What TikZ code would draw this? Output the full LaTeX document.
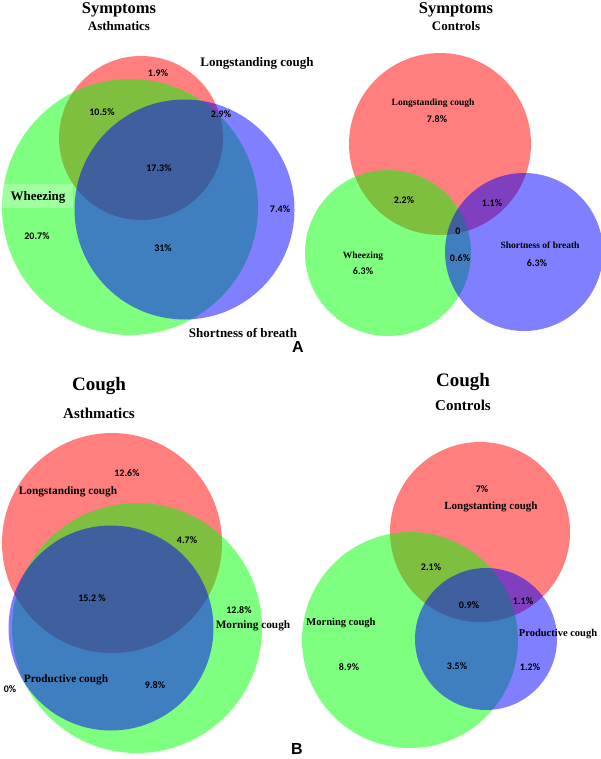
\documentclass[tikz,border=0pt]{standalone}
\usepackage{fontspec}
\setmainfont{Liberation Serif}
\newfontfamily\pctfont{Carlito}
\newfontfamily\panelfont{Liberation Sans}
\begin{document}
\begin{tikzpicture}[x=1pt,y=-1pt,
  venn/.style={circle,inner sep=0pt,draw=none,fill opacity=0.5,minimum size=#1},
  vr/.style={venn=#1,fill={rgb,255:red,255;green,0;blue,0}},
  vg/.style={venn=#1,fill={rgb,255:red,0;green,255;blue,0}},
  vb/.style={venn=#1,fill={rgb,255:red,0;green,0;blue,255}},
  fs/.style={font=\bfseries\fontsize{#1}{#1}\selectfont},
  ttl/.style={inner sep=0pt,fs=#1},
  lbl/.style={inner sep=0pt,fs=#1},
  pct/.style={inner sep=0pt,font=\pctfont\bfseries\fontsize{10}{10}\selectfont},
  panel/.style={inner sep=0pt,font=\panelfont\bfseries\fontsize{16}{16}\selectfont}]
\useasboundingbox (0,0) rectangle (600,759);
\fill[white] (0,0) rectangle (600,759);

% ---------- Panel A, asthmatics ----------
\node[vr=164pt] (aaR) at (141,138) {};
\node[vg=256pt] (aaG) at (130,207) {};
\node[vb=220pt] (aaB) at (184.5,209.5) {};
\fill[white,fill opacity=0.25] (2,184) rectangle (73,208);

\node[ttl=16.5] (aaT) at (119,10) {Symptoms};
\node[ttl=13] (aaS) at (119,26) {Asthmatics};
\node[lbl=13] (aaLR) at (257,63) {Longstanding cough};
\node[lbl=13] (aaLG) at (38,197) {Wheezing};
\node[lbl=13] (aaLB) at (243,333) {Shortness of breath};
\node[pct] (aa1) at (158,73) {1.9\%};
\node[pct] (aa2) at (102,112) {10.5\%};
\node[pct] (aa3) at (221,114) {2.9\%};
\node[pct] (aa4) at (159,168) {17.3\%};
\node[pct] (aa5) at (37,236) {20.7\%};
\node[pct] (aa6) at (163,248) {31\%};
\node[pct] (aa7) at (280,209) {7.4\%};
\node[panel] (pA) at (298,347) {A};

% ---------- Panel A, controls ----------
\node[vr=182pt] (acR) at (440,144) {};
\node[vg=166pt] (acG) at (388,253) {};
\node[vb=158pt] (acB) at (524,252) {};

\node[ttl=16.5] (acT) at (456,10) {Symptoms};
\node[ttl=13] (acS) at (456,26) {Controls};
\node[lbl=9.5] (acLR) at (433,103) {Longstanding cough};
\node[pct] (ac1) at (437,119) {7.8\%};
\node[pct] (ac2) at (404,200) {2.2\%};
\node[pct] (ac3) at (492,203) {1.1\%};
\node[pct] (ac4) at (458,231) {0};
\node[pct] (ac5) at (460,258) {0.6\%};
\node[lbl=9.5] (acLG) at (363,256) {Wheezing};
\node[pct] (ac6) at (363,271) {6.3\%};
\node[lbl=9.5] (acLB) at (540,245) {Shortness of breath};
\node[pct] (ac7) at (537,263) {6.3\%};

% ---------- Panel B, asthmatics ----------
\node[vr=220pt] (baR) at (112,543) {};
\node[vg=250pt] (baG) at (137,628) {};
\node[vb=205pt] (baB) at (111,628) {};

\node[ttl=19] (baT) at (99,386) {Cough};
\node[ttl=15] (baS) at (99,413) {Asthmatics};
\node[pct] (ba1) at (127,473) {12.6\%};
\node[lbl=11.3] (baLR) at (68,492) {Longstanding cough};
\node[pct] (ba2) at (187,540) {4.7\%};
\node[pct] (ba3) at (92,598) {15.2 \%};
\node[pct] (ba4) at (239,610) {12.8\%};
\node[lbl=11.3] (baLG) at (253,626) {Morning cough};
\node[lbl=11.3] (baLB) at (66,680) {Productive cough};
\node[pct] (ba5) at (155,685) {9.8\%};
\node[pct] (ba6) at (10,689) {0\%};
\node[panel] (pB) at (297,749) {B};

% ---------- Panel B, controls ----------
\node[vr=180pt] (bcR) at (480,532) {};
\node[vg=216pt] (bcG) at (410,640) {};
\node[vb=142pt] (bcB) at (486,639) {};

\node[ttl=19] (bcT) at (463,382) {Cough};
\node[ttl=15] (bcS) at (463,405) {Controls};
\node[pct] (bc1) at (482,489) {7\%};
\node[lbl=11] (bcLR) at (491,507) {Longstanting cough};
\node[pct] (bc2) at (431,567) {2.1\%};
\node[pct] (bc3) at (469,605) {0.9\%};
\node[pct] (bc4) at (523,601) {1.1\%};
\node[lbl=10.5] (bcLG) at (341,623) {Morning cough};
\node[lbl=10.5] (bcLB) at (558,634) {Productive cough};
\node[pct] (bc5) at (349,667) {8.9\%};
\node[pct] (bc6) at (457,666) {3.5\%};
\node[pct] (bc7) at (530,667) {1.2\%};
\end{tikzpicture}
\end{document}
